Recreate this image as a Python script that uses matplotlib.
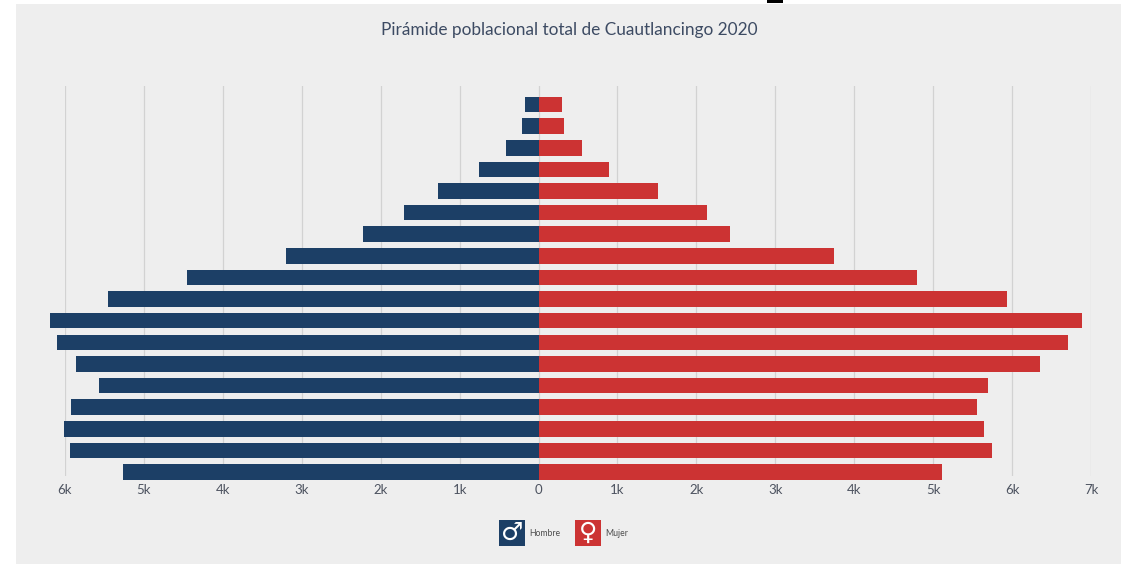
import matplotlib
matplotlib.use('Agg')
import matplotlib.pyplot as plt
from matplotlib.patches import Rectangle

# youngest group at the bottom (no labels shown on the y axis)
edades = ['0-4', '5-9', '10-14', '15-19', '20-24', '25-29', '30-34', '35-39', '40-44',
          '45-49', '50-54', '55-59', '60-64', '65-69', '70-74', '75-79', '80-84', '85+']
hombres = [5270, 5940, 6010, 5920, 5570, 5860, 6100, 6190, 5460,
           4460, 3200, 2230, 1710, 1270, 760, 418, 215, 177]
mujeres = [5110, 5740, 5650, 5560, 5690, 6360, 6710, 6880, 5930,
           4790, 3740, 2430, 2130, 1510, 890, 545, 320, 300]
ticks = [-6000, -5000, -4000, -3000, -2000, -1000, 0, 1000, 2000, 3000, 4000, 5000, 6000, 7000]
tick_labels = ['6k', '5k', '4k', '3k', '2k', '1k', '0', '1k', '2k', '3k', '4k', '5k', '6k', '7k']

azul = '#1c3f66'
rojo = '#cc3333'
gris = '#eeeeee'
fuente = ['Lato', 'Roboto', 'DejaVu Sans']
W, H = 1121, 564

fig = plt.figure(figsize=(W / 100, H / 100), dpi=100, facecolor='white')

# grey panel, white strip on the left and on top
fig.add_artist(Rectangle((16 / W, 0), 1 - 16 / W, 1 - 4 / H, transform=fig.transFigure,
                         facecolor=gris, edgecolor='none', zorder=-2))

# black scrap of a cut off heading at the top edge
fig.add_artist(Rectangle((767 / W, 1 - 3 / H), 16 / W, 3 / H, transform=fig.transFigure,
                         facecolor='black', edgecolor='none', zorder=-1))

# axes go from the 6k grid line to the 7k one
ax = fig.add_axes([65 / W, 1 - 476 / H, (1091 - 65) / W, (476 - 86) / H])
ax.patch.set_alpha(0)
y = list(range(len(edades)))
ax.barh(y, [-v for v in hombres], height=0.72, color=azul, clip_on=False, zorder=3)
ax.barh(y, mujeres, height=0.72, color=rojo, clip_on=False, zorder=3)

ax.set_xlim(-6000, 7000)
ax.set_ylim(-0.185, 17.856)
ax.set_yticks([])
ax.set_xticks(ticks)
ax.set_xticklabels(tick_labels, family=fuente, fontsize=9.5, color='#4d5360')
ax.tick_params(axis='x', length=0, pad=5.5)
ax.grid(axis='x', color='#d2d2d2', linewidth=0.9, zorder=0)
ax.set_axisbelow(True)
for s in ax.spines.values():
    s.set_visible(False)

fig.text(569.5 / W, 1 - 30 / H, 'Pirámide poblacional total de Cuautlancingo 2020', color='#3d4b63',
         fontsize=12.4, ha='center', va='center', family=fuente)

# legend, square icons with the gender signs
for x0, color, signo, nombre in [(499, azul, '♂', 'Hombre'), (575, rojo, '♀', 'Mujer')]:
    fig.add_artist(Rectangle((x0 / W, 1 - 546 / H), 26 / W, 26 / H, transform=fig.transFigure,
                             facecolor=color, edgecolor='none', zorder=2))
    fig.text((x0 + 13) / W, 1 - 533 / H, signo, color='white', fontsize=18, fontweight='bold',
             ha='center', va='center', family='DejaVu Sans', zorder=3)
    fig.text((x0 + 30) / W, 1 - 533 / H, nombre, color='#4d4d4d', fontsize=6.2,
             ha='left', va='center', family=fuente, zorder=3)

fig.savefig('out.png', dpi=100, facecolor=fig.get_facecolor())
